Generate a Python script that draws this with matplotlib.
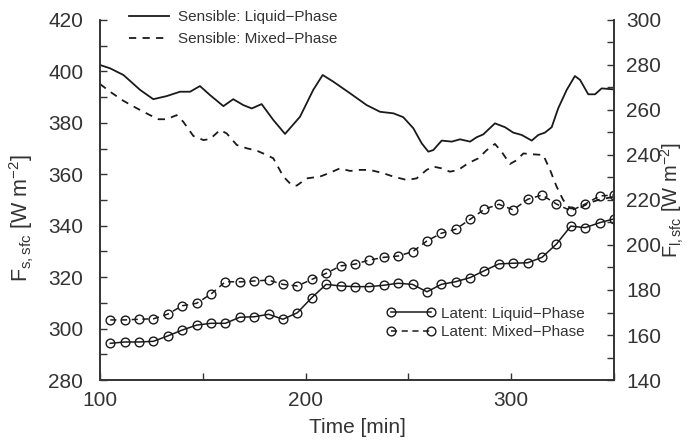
import matplotlib
matplotlib.use("Agg")
import matplotlib.pyplot as plt
from matplotlib.ticker import MultipleLocator

plt.rcParams['font.family'] = ['Liberation Sans', 'DejaVu Sans']
plt.rcParams['mathtext.fontset'] = 'custom'
plt.rcParams['mathtext.rm'] = 'Liberation Sans'
plt.rcParams['mathtext.it'] = 'Liberation Sans'

# sensible heat flux (left axis)
sens_liq_t = [100, 104.9, 111.4, 119.5, 125.9, 132.4, 138.9, 143.8, 148.6, 153.5,
              160, 164.8, 169.7, 173.8, 178.6, 184.3, 190, 197.3, 203.7, 208.3,
              213.5, 221.6, 229.7, 236.2, 242.7, 247.5, 252.4, 256.5, 259.7, 262.1,
              266.2, 271.1, 275.1, 280, 283.2, 286.4, 292.1, 297, 301, 305.1,
              310, 313.2, 316.4, 319.7, 322.9, 327, 331, 333.5, 337.5, 340.8, 344, 350]
sens_liq = [402.5, 401.2, 398.6, 392.8, 389.2, 390.4, 392.1, 392.1, 394.3, 390.8,
            386.5, 389.2, 386.9, 385.6, 387.3, 381.1, 375.7, 382.4, 392.8, 398.6,
            396.0, 391.5, 386.9, 384.3, 383.7, 382.2, 377.9, 372.0, 368.8, 369.4,
            373.1, 372.7, 373.6, 372.7, 374.4, 375.5, 379.8, 378.3, 376.2, 375.3,
            373.1, 375.3, 376.2, 378.3, 385.7, 392.8, 398.2, 396.7, 391.1, 391.1, 393.4, 393.0]

sens_mix_t = [100, 104.9, 111.3, 117.8, 124.3, 128.4, 132.4, 137.3, 140.5, 145.4,
              150.3, 153.5, 158.4, 161.6, 166.5, 171.4, 176.2, 181.1, 184.3, 189.2,
              193.2, 195.7, 200.5, 207, 211.9, 216.7, 221.6, 226.5, 231.3, 237.8,
              242.7, 249.1, 254, 258.9, 262.1, 266.2, 270.2, 274.3, 279.1, 284,
              288.1, 292.1, 295.3, 299.4, 302.7, 305.9, 310, 315.6, 318.9, 322.1,
              325.3, 328.6, 332.5, 337.5, 342.2, 349.5]
sens_mix = [395.1, 392.1, 388.6, 385.7, 383.0, 381.4, 381.4, 383.0, 380.4, 374.9,
            373.3, 373.7, 377.2, 375.9, 371.4, 370.1, 369.2, 367.5, 366.2, 359.1,
            355.8, 355.6, 358.4, 359.1, 360.6, 362.3, 361.3, 361.7, 361.7, 360.4,
            359.1, 357.8, 358.4, 361.7, 363.0, 362.3, 361.0, 361.7, 364.3, 366.2,
            369.4, 371.8, 368.8, 364.0, 365.5, 368.1, 367.8, 367.5, 361.7, 355.2,
            350.0, 346.8, 346.5, 348.7, 350.0, 351.2]

# latent heat flux (right axis)
lat_t = [105, 112, 119, 126, 133, 140, 147, 154, 161, 168, 175, 182,
         189, 196, 203, 210, 217, 224, 231, 238, 245, 252, 259, 266,
         273, 280, 287, 294, 301, 308, 315, 322, 329, 336, 343, 350]
lat_liq = [156.3, 156.9, 156.9, 157.2, 159.6, 162.2, 164.4, 165.2, 165.2, 167.9, 168.1, 169.2,
           167.0, 169.9, 176.6, 182.5, 181.8, 181.5, 181.5, 182.1, 183.0, 182.5, 179.2, 182.5,
           183.7, 185.5, 188.6, 191.6, 191.9, 192.1, 194.5, 200.4, 208.4, 207.7, 209.9, 211.6]
lat_mix = [166.7, 166.7, 167.0, 167.2, 169.3, 173.0, 174.1, 178.2, 183.7, 183.6, 184.0, 184.4,
           182.5, 181.8, 184.7, 187.4, 190.7, 191.5, 193.3, 194.5, 195.1, 197.0, 201.8, 205.2,
           207.0, 211.4, 215.9, 218.1, 215.6, 220.3, 222.2, 218.2, 215.2, 218.2, 221.8, 222.2]

col = '#1a1a1a'
txt = '#333333'
fig = plt.figure(figsize=(6.87, 4.43), dpi=100)
ax = fig.add_axes([0.1456, 0.1422, 0.7481, 0.8127])
ax2 = ax.twinx()

ax.plot(sens_liq_t, sens_liq, '-', color=col, lw=1.3, label='Sensible: Liquid\u2212Phase')
ax.plot(sens_mix_t, sens_mix, '--', color=col, lw=1.3, dashes=(4, 3.5), label='Sensible: Mixed\u2212Phase')

mk = dict(marker='o', ms=6.3, mfc='none', mec=col, mew=1.0, color=col, lw=1.1)
ax2.plot(lat_t, lat_liq, '-', label='Latent: Liquid\u2212Phase', **mk)
ax2.plot(lat_t, lat_mix, '--', dashes=(4, 3), label='Latent: Mixed\u2212Phase', **mk)

ax.set_xlim(100, 350)
ax.set_ylim(280, 420)
ax2.set_ylim(140, 300)

ax.xaxis.set_major_locator(MultipleLocator(100))
ax.xaxis.set_minor_locator(MultipleLocator(50))
ax.yaxis.set_major_locator(MultipleLocator(20))
ax.yaxis.set_minor_locator(MultipleLocator(10))
ax2.yaxis.set_major_locator(MultipleLocator(20))
ax2.yaxis.set_minor_locator(MultipleLocator(10))

for a in (ax, ax2):
    a.spines['top'].set_visible(False)
    for s in a.spines.values():
        s.set_color(txt)
        s.set_linewidth(1.2)
    a.tick_params(which='both', direction='in', length=5, width=1.0, color=txt,
                  labelsize=15, labelcolor=txt)
ax.tick_params(axis='x', pad=8)
ax.tick_params(axis='y', pad=12)
ax2.tick_params(axis='y', pad=9)

ax.set_xlabel('Time [min]', fontsize=15, color=txt, labelpad=6)
ax.set_ylabel(r'F$_{\mathrm{s,sfc}}$ [W m$^{-2}$]', fontsize=15.5, color=txt)
ax2.set_ylabel(r'F$_{\mathrm{l,sfc}}$ [W m$^{-2}$]', fontsize=14.5, color=txt)
ax.yaxis.set_label_coords(-0.124, 0.45)
ax2.yaxis.set_label_coords(1.088, 0.5)

ax.legend(loc='upper left', bbox_to_anchor=(0.03, 1.065), frameon=False, fontsize=11,
          handlelength=2.6, labelspacing=0.5, handletextpad=0.6)
leg2 = ax2.legend(loc='lower right', bbox_to_anchor=(0.97, 0.075), frameon=False, fontsize=11,
                  handlelength=3.2, labelspacing=0.3, handletextpad=0.35, numpoints=2)
for t in ax.get_legend().get_texts() + leg2.get_texts():
    t.set_color(txt)

fig.savefig('out.png', dpi=100)
